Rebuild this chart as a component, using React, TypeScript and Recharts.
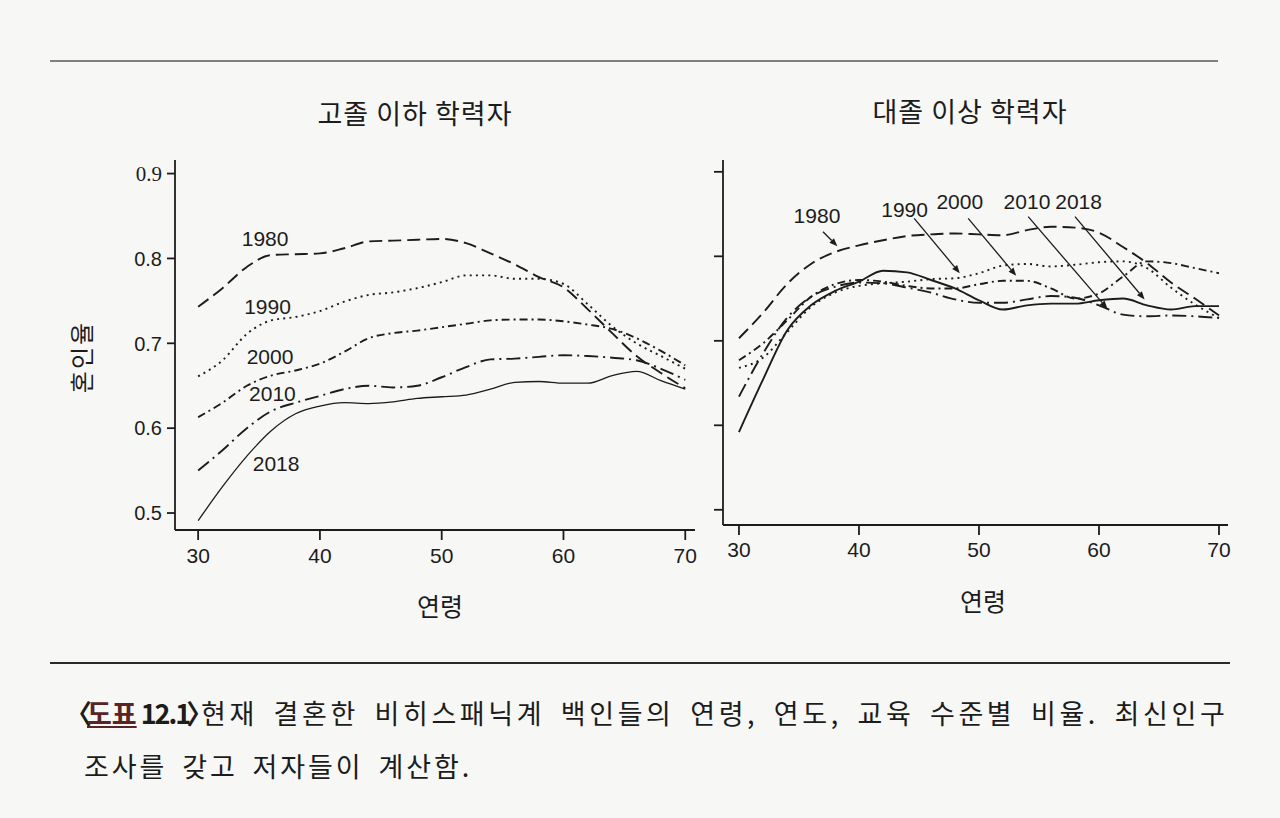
import React from 'react';
import { LineChart, Line, XAxis, YAxis, ReferenceLine, ReferenceDot } from 'recharts';

// 연령 (2세 간격)
const AGES = [30, 32, 34, 36, 38, 40, 42, 44, 46, 48, 50, 52, 54, 56, 58, 60, 62, 64, 66, 68, 70];
const YEARS = ['1980', '1990', '2000', '2010', '2018'];
const AGE_TICKS = [30, 40, 50, 60, 70];
const RATE_TICKS = [0.5, 0.6, 0.7, 0.8, 0.9];

// 고졸 이하 학력자
const HS_1980 = [0.743, 0.765, 0.790, 0.804, 0.805, 0.806, 0.812, 0.820, 0.821, 0.822, 0.823, 0.818, 0.806, 0.793, 0.778, 0.766, 0.740, 0.712, 0.685, 0.665, 0.647];
const HS_1990 = [0.661, 0.680, 0.711, 0.727, 0.731, 0.738, 0.749, 0.757, 0.760, 0.765, 0.772, 0.780, 0.780, 0.776, 0.776, 0.770, 0.746, 0.720, 0.700, 0.685, 0.670];
const HS_2000 = [0.613, 0.630, 0.650, 0.662, 0.668, 0.676, 0.690, 0.706, 0.712, 0.715, 0.719, 0.723, 0.727, 0.728, 0.728, 0.726, 0.722, 0.717, 0.706, 0.691, 0.674];
const HS_2010 = [0.550, 0.574, 0.600, 0.620, 0.630, 0.638, 0.646, 0.650, 0.648, 0.650, 0.660, 0.672, 0.681, 0.682, 0.684, 0.686, 0.685, 0.683, 0.680, 0.670, 0.657];
const HS_2018 = [0.491, 0.531, 0.567, 0.597, 0.617, 0.626, 0.630, 0.629, 0.631, 0.635, 0.637, 0.639, 0.646, 0.654, 0.655, 0.653, 0.653, 0.662, 0.667, 0.656, 0.646];

// 대졸 이상 학력자
const COL_1980 = [0.703, 0.733, 0.767, 0.791, 0.805, 0.813, 0.819, 0.824, 0.826, 0.827, 0.826, 0.825, 0.831, 0.835, 0.834, 0.828, 0.811, 0.792, 0.769, 0.750, 0.730];
const COL_1990 = [0.668, 0.680, 0.710, 0.740, 0.757, 0.765, 0.768, 0.770, 0.773, 0.774, 0.780, 0.789, 0.791, 0.788, 0.790, 0.793, 0.794, 0.786, 0.763, 0.743, 0.727];
const COL_2000 = [0.677, 0.697, 0.724, 0.752, 0.767, 0.772, 0.770, 0.765, 0.762, 0.762, 0.767, 0.771, 0.771, 0.762, 0.750, 0.756, 0.776, 0.794, 0.792, 0.786, 0.780];
const COL_2010 = [0.634, 0.685, 0.727, 0.752, 0.764, 0.769, 0.768, 0.763, 0.757, 0.749, 0.745, 0.745, 0.749, 0.753, 0.751, 0.742, 0.731, 0.729, 0.730, 0.729, 0.727];
const COL_2018 = [0.592, 0.654, 0.712, 0.742, 0.759, 0.770, 0.783, 0.781, 0.772, 0.762, 0.748, 0.737, 0.742, 0.744, 0.744, 0.748, 0.750, 0.742, 0.737, 0.741, 0.741];

// 계열 라벨 위치 (연령, 혼인율)
const HS_LABEL_AGE = [35.5, 35.7, 35.9, 36.1, 36.4];
const HS_LABEL_RATE = [0.824, 0.743, 0.685, 0.641, 0.559];
const COL_LABEL_AGE = [36.5, 43.8, 48.4, 54.0, 58.3];
const COL_LABEL_RATE = [0.848, 0.856, 0.865, 0.865, 0.865];
// 화살표: 시작(연령, 혼인율) -> 끝
const ARROW_FROM_AGE = [37.0, 44.6, 49.1, 54.1, 58.0];
const ARROW_FROM_RATE = [0.829, 0.845, 0.845, 0.847, 0.847];
const ARROW_TO_AGE = [38.2, 48.4, 53.1, 60.7, 63.8];
const ARROW_TO_RATE = [0.812, 0.780, 0.777, 0.738, 0.749];

const INK = '#1c1c1c';
const NUM_FONT = '"Liberation Sans", Arial, sans-serif';
const KR_FONT = '"Noto Sans CJK KR", "Noto Sans", sans-serif';

const DASHES = ['13 6', '2 4.2', '8 4 2 4', '14 5 2 5', undefined];

const buildRows = (series: number[][]) =>
  AGES.map((age, i) => {
    const row: Record<string, number> = { age };
    YEARS.forEach((y, k) => { row['y' + y] = series[k][i]; });
    return row;
  });

const hsRows = buildRows([HS_1980, HS_1990, HS_2000, HS_2010, HS_2018]);
const colRows = buildRows([COL_1980, COL_1990, COL_2000, COL_2010, COL_2018]);

const YTick = (props: any) => {
  const { x, y, payload } = props;
  const v = Number(payload.value).toFixed(1);
  const serif = v === '0.9';
  return (
    <text x={x} y={y} dy="0.36em" textAnchor="end" fill={INK}
      fontFamily={serif ? '"Liberation Serif", serif' : NUM_FONT} fontSize={serif ? 21 : 20}>
      {v}
    </text>
  );
};

const XTick = (props: any) => {
  const { x, y, payload } = props;
  return (
    <text x={x} y={y} dy="0.72em" textAnchor="middle" fill={INK} fontFamily={NUM_FONT} fontSize={21}>
      {payload.value}
    </text>
  );
};

const Arrow = (props: any) => {
  const { x1, y1, x2, y2 } = props;
  if ([x1, y1, x2, y2].some((v) => typeof v !== 'number')) return null;
  const a = Math.atan2(y2 - y1, x2 - x1);
  const L = 8, W = 3.2;
  const bx = x2 - L * Math.cos(a), by = y2 - L * Math.sin(a);
  const p1 = `${bx + W * Math.sin(a)},${by - W * Math.cos(a)}`;
  const p2 = `${bx - W * Math.sin(a)},${by + W * Math.cos(a)}`;
  return (
    <g>
      <line x1={x1} y1={y1} x2={bx} y2={by} stroke={INK} strokeWidth={1.3} />
      <polygon points={`${x2},${y2} ${p1} ${p2}`} fill={INK} />
    </g>
  );
};

const labelShape = (text: string) => (props: any) => (
  <text x={props.cx} y={props.cy} dy="0.36em" textAnchor="middle" fill={INK} fontFamily={NUM_FONT} fontSize={21}>
    {text}
  </text>
);

const abs = (left: number, top: number, extra: React.CSSProperties = {}): React.CSSProperties => ({
  position: 'absolute', left, top, transform: 'translate(-50%, -50%)', whiteSpace: 'nowrap', ...extra,
});

const CAPTION_STYLE: React.CSSProperties = {
  position: 'absolute', fontSize: 27, lineHeight: '53px', letterSpacing: 3.6, wordSpacing: 6, whiteSpace: 'nowrap',
};

export default function App() {
  return (
    <div style={{ position: 'absolute', left: 0, top: 0, width: 1280, height: 818, background: '#f7f7f5', overflow: 'hidden', color: INK, fontFamily: KR_FONT }}>
      {/* 상단 선 */}
      <div style={{ position: 'absolute', left: 50, top: 60, width: 1168, height: 1.5, background: '#808080' }} />

      <div style={abs(415, 112, { fontSize: 27, letterSpacing: 1 })}>고졸 이하 학력자</div>
      <div style={abs(970, 110, { fontSize: 27, letterSpacing: 1 })}>대졸 이상 학력자</div>
      <div style={abs(80, 357, { fontSize: 24, letterSpacing: 2, transform: 'translate(-50%, -50%) rotate(-90deg)' })}>혼인율</div>
      <div style={abs(440, 605, { fontSize: 25 })}>연령</div>
      <div style={abs(983, 600, { fontSize: 25 })}>연령</div>

      {/* 왼쪽: 고졸 이하 */}
      <div style={{ position: 'absolute', left: 0, top: 0 }}>
        <LineChart width={700} height={600} data={hsRows} margin={{ top: 160, right: 5, bottom: 30, left: 115 }}>
          <XAxis type="number" dataKey="age" domain={[28.1, 70.8]} ticks={AGE_TICKS} allowDataOverflow
            height={40} stroke={INK} strokeWidth={1.8} tickSize={10} tickMargin={8} tick={<XTick />} />
          <YAxis type="number" domain={[0.48, 0.916]} ticks={RATE_TICKS} allowDataOverflow
            width={60} stroke={INK} strokeWidth={1.8} tickSize={8} tickMargin={5} tick={<YTick />} />
          {YEARS.map((y, k) => (
            <Line key={y} type="monotone" dataKey={'y' + y} stroke={INK} dot={false}
              strokeWidth={k === 4 ? 1.3 : 1.9} strokeDasharray={DASHES[k]} isAnimationActive={false} />
          ))}
          {YEARS.map((y, k) => (
            <ReferenceDot key={'l' + y} x={HS_LABEL_AGE[k]} y={HS_LABEL_RATE[k]} r={0} ifOverflow="visible" shape={labelShape(y)} />
          ))}
        </LineChart>
      </div>

      {/* 오른쪽: 대졸 이상 */}
      <div style={{ position: 'absolute', left: 700, top: 0 }}>
        <LineChart width={580} height={600} data={colRows} margin={{ top: 160, right: 52, bottom: 35, left: 7 }}>
          <XAxis type="number" dataKey="age" domain={[28.67, 70.75]} ticks={AGE_TICKS} allowDataOverflow
            height={40} stroke={INK} strokeWidth={1.8} tickSize={10} tickMargin={7} tick={<XTick />} />
          <YAxis type="number" domain={[0.482, 0.914]} ticks={RATE_TICKS} allowDataOverflow
            width={16} stroke={INK} strokeWidth={1.8} tickSize={9} tickFormatter={() => ''} />
          {YEARS.map((y, k) => (
            <Line key={y} type="monotone" dataKey={'y' + y} stroke={INK} dot={false}
              strokeWidth={1.9} strokeDasharray={DASHES[k]} isAnimationActive={false} />
          ))}
          {YEARS.map((y, k) => (
            <ReferenceLine key={'a' + y} ifOverflow="visible" shape={<Arrow />}
              segment={[{ x: ARROW_FROM_AGE[k], y: ARROW_FROM_RATE[k] }, { x: ARROW_TO_AGE[k], y: ARROW_TO_RATE[k] }]} />
          ))}
          {YEARS.map((y, k) => (
            <ReferenceDot key={'l' + y} x={COL_LABEL_AGE[k]} y={COL_LABEL_RATE[k]} r={0} ifOverflow="visible" shape={labelShape(y)} />
          ))}
        </LineChart>
      </div>

      {/* 하단 선과 캡션 */}
      <div style={{ position: 'absolute', left: 50, top: 662, width: 1180, height: 2, background: '#2a2a2a' }} />
      <div style={{ ...CAPTION_STYLE, left: 65, top: 686, letterSpacing: 0, wordSpacing: 0, fontWeight: 700, display: 'flex' }}>
        <span style={{ marginRight: -5 }}>〈</span>
        <span style={{ color: '#5b2424', textDecoration: 'underline' }}>도표</span>
        <span style={{ marginLeft: 4, letterSpacing: -2 }}>12.1</span>
        <span style={{ marginLeft: -3 }}>〉</span>
      </div>
      <div style={{ ...CAPTION_STYLE, left: 201, top: 686 }}>
        현재 결혼한 비히스패닉계 백인들의 연령, 연도, 교육 수준별 비율. 최신인구
      </div>
      <div style={{ ...CAPTION_STYLE, left: 84, top: 739, letterSpacing: 2.9 }}>
        조사를 갖고 저자들이 계산함.
      </div>
    </div>
  );
}
